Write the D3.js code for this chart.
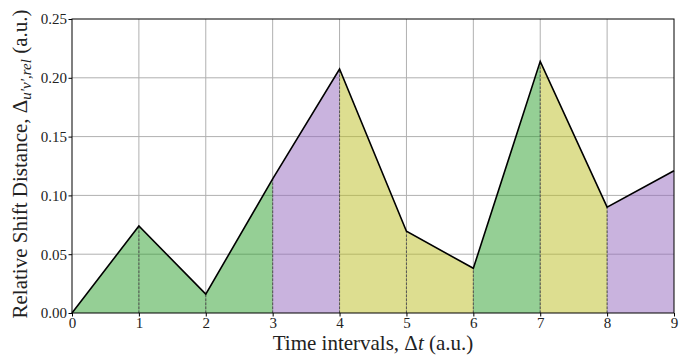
<!DOCTYPE html>
<html>
<head>
<meta charset="utf-8">
<script src="https://cdn.jsdelivr.net/npm/d3@7"></script>
<style>
  body { margin: 0; background: #fff; }
  svg { font-family: 'Liberation Serif', 'DejaVu Serif', serif; }
</style>
</head>
<body>
<div id="chart"></div>
<script>
// time steps and relative shift distance at each step
const times = [0, 1, 2, 3, 4, 5, 6, 7, 8, 9];
const shifts = [0.0, 0.074, 0.016, 0.114, 0.2075, 0.0695, 0.038, 0.214, 0.090, 0.121];
// colour class of each interval [t_i, t_i+1]
const intervalClass = ['green', 'green', 'green', 'purple', 'olive', 'olive', 'green', 'olive', 'purple'];
const xTicks = [0, 1, 2, 3, 4, 5, 6, 7, 8, 9];
const yTicks = [0.00, 0.05, 0.10, 0.15, 0.20, 0.25];

const palette = { green: '#2ca02c', purple: '#9467bd', olive: '#bcbd22' };

const W = 690, H = 360;
const margin = { left: 72, right: 16, top: 19, bottom: 47 };
const width = W - margin.left - margin.right;
const height = H - margin.top - margin.bottom;

const svg = d3.select('#chart').append('svg')
  .attr('width', W)
  .attr('height', H);
const g = svg.append('g')
  .attr('transform', `translate(${margin.left}, ${margin.top})`);

const x = d3.scaleLinear().domain([0, 9]).range([0, width]);
const y = d3.scaleLinear().domain([0, 0.25]).range([height, 0]);

// grid
g.append('g').selectAll('line')
  .data(xTicks.slice(1, -1))
  .enter().append('line')
  .attr('x1', d => x(d)).attr('x2', d => x(d))
  .attr('y1', 0).attr('y2', height)
  .attr('stroke', '#b0b0b0').attr('stroke-width', 1);
g.append('g').selectAll('line')
  .data(yTicks.slice(1, -1))
  .enter().append('line')
  .attr('x1', 0).attr('x2', width)
  .attr('y1', d => y(d)).attr('y2', d => y(d))
  .attr('stroke', '#b0b0b0').attr('stroke-width', 1);

// filled intervals
const points = times.map((t, i) => ({ t, v: shifts[i] }));
const area = d3.area()
  .x(d => x(d.t))
  .y0(y(0))
  .y1(d => y(d.v));
g.append('g').selectAll('path')
  .data(intervalClass)
  .enter().append('path')
  .attr('d', (c, i) => area(points.slice(i, i + 2)))
  .attr('fill', c => palette[c])
  .attr('fill-opacity', 0.5)
  .attr('stroke', 'none');

// dashed separators at each interior step
g.append('g').selectAll('line')
  .data(points.slice(1, -1))
  .enter().append('line')
  .attr('x1', d => x(d.t)).attr('x2', d => x(d.t))
  .attr('y1', y(0)).attr('y2', d => y(d.v))
  .attr('stroke', '#555').attr('stroke-width', 1)
  .attr('stroke-dasharray', '2.5,1.5');

// curve
const line = d3.line().x(d => x(d.t)).y(d => y(d.v));
g.append('path')
  .datum(points)
  .attr('d', line)
  .attr('fill', 'none')
  .attr('stroke', '#000')
  .attr('stroke-width', 1.6)
  .attr('stroke-linejoin', 'miter');

// frame
g.append('rect')
  .attr('width', width).attr('height', height)
  .attr('fill', 'none').attr('stroke', '#000').attr('stroke-width', 1);

// axes
const xAxis = g.append('g')
  .attr('transform', `translate(0, ${height})`)
  .call(d3.axisBottom(x).tickValues(xTicks).tickFormat(d3.format('d')).tickSizeInner(3.5).tickSizeOuter(0).tickPadding(1));
const yAxis = g.append('g')
  .call(d3.axisLeft(y).tickValues(yTicks).tickFormat(d3.format('.2f')).tickSizeInner(3.5).tickSizeOuter(0).tickPadding(1.5));
[xAxis, yAxis].forEach(a => {
  a.select('.domain').remove();
  a.selectAll('text').attr('font-size', 15).attr('fill', '#222')
    .style('font-family', "'Liberation Serif', 'DejaVu Serif', serif");
  a.selectAll('line').attr('stroke', '#000');
});

// axis labels
const xl = svg.append('text')
  .attr('x', margin.left + width / 2)
  .attr('y', 350)
  .attr('text-anchor', 'middle')
  .attr('font-size', 21)
  .attr('fill', '#222');
xl.append('tspan').text('Time intervals, Δ');
xl.append('tspan').attr('font-style', 'italic').text('t');
xl.append('tspan').text(' (a.u.)');

const yl = svg.append('text')
  .attr('transform', `translate(27, ${margin.top + height / 2 - 2}) rotate(-90)`)
  .attr('text-anchor', 'middle')
  .attr('font-size', 21)
  .attr('fill', '#222');
yl.append('tspan').text('Relative Shift Distance, Δ');
yl.append('tspan').attr('font-style', 'italic').attr('font-size', 15).attr('dy', 4).text('u′v′,rel');
yl.append('tspan').attr('dy', -4).text(' (a.u.)');
</script>
</body>
</html>
